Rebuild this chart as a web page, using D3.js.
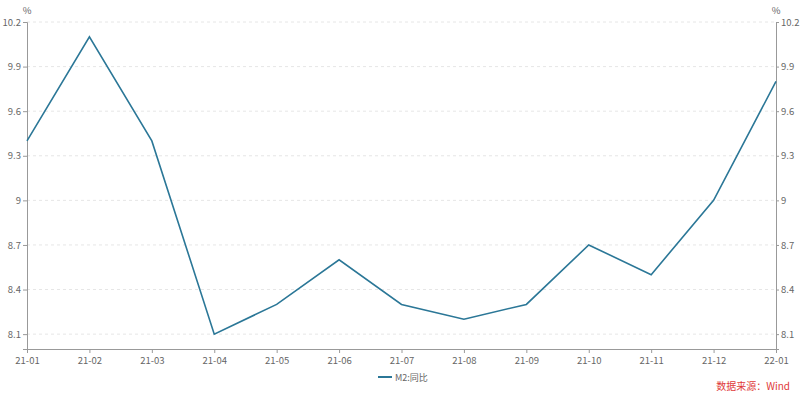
<!DOCTYPE html>
<html><head><meta charset="utf-8">
<script src="https://cdn.jsdelivr.net/npm/d3@7/dist/d3.min.js"></script>
<style>body{margin:0;background:#fff;}svg{display:block;font-family:"Noto Sans CJK SC","Open Sans",sans-serif;}</style>
</head><body><svg id="c" width="800" height="399"></svg>
<script>
const categories = ["21-01","21-02","21-03","21-04","21-05","21-06","21-07","21-08","21-09","21-10","21-11","21-12","22-01"];
const m2Values = [9.4,10.1,9.4,8.1,8.3,8.6,8.3,8.2,8.3,8.7,8.5,9.0,9.8];
const yTicks = [8.1,8.4,8.7,9.0,9.3,9.6,9.9,10.2];
const seriesName = "M2:同比";
const unit = "%";
const source = "数据来源：Wind";

const svg = d3.select("#c");
const L = 27, R = 776, T = 22, B = 349;
const x = d3.scalePoint().domain(categories).range([L, R]);
const y = d3.scaleLinear().domain([8.0, 10.2]).range([B, T]);
const axisColor = "#999";
const textColor = "#666";

// grid
svg.append("g").selectAll("line").data(yTicks).join("line")
  .attr("x1", L).attr("x2", R).attr("y1", d => y(d)).attr("y2", d => y(d))
  .attr("stroke", "#e6e6e6").attr("stroke-dasharray", "3,3");

const fmt = d => String(+d.toFixed(1));
const yl = svg.append("g").attr("transform", `translate(${L},0)`)
  .call(d3.axisLeft(y).tickValues(yTicks).tickFormat(fmt).tickSize(4).tickPadding(2));
const yr = svg.append("g").attr("transform", `translate(${R},0)`)
  .call(d3.axisRight(y).tickValues(yTicks).tickFormat(fmt).tickSize(3).tickPadding(2));
const xa = svg.append("g").attr("transform", `translate(0,${B})`)
  .call(d3.axisBottom(x).tickSize(4).tickPadding(4));
[yl, yr, xa].forEach(g => {
  g.select(".domain").attr("stroke", axisColor);
  g.selectAll(".tick line").attr("stroke", axisColor);
  g.selectAll("text").attr("fill", textColor).attr("font-size", 9.5)
    .attr("font-family", '"Noto Sans CJK SC","Open Sans",sans-serif');
});

svg.append("text").attr("x", L).attr("y", 14).attr("text-anchor", "middle")
  .attr("font-size", 9.5).attr("fill", textColor).text(unit);
svg.append("text").attr("x", R).attr("y", 14).attr("text-anchor", "middle")
  .attr("font-size", 9.5).attr("fill", textColor).text(unit);

const line = d3.line().x((d, i) => x(categories[i])).y(d => y(d));
svg.append("path").datum(m2Values).attr("d", line)
  .attr("fill", "none").attr("stroke", "#2b7797").attr("stroke-width", 1.6)
  .attr("stroke-linejoin", "miter");

// legend
const lg = svg.append("g").attr("transform", "translate(400,377)");
lg.append("line").attr("x1", -22).attr("x2", -8).attr("y1", 0).attr("y2", 0)
  .attr("stroke", "#2b7797").attr("stroke-width", 2);
lg.append("text").attr("x", -5).attr("y", 3.5).attr("font-size", 9).attr("fill", textColor).text(seriesName);

svg.append("text").attr("x", 790).attr("y", 390).attr("text-anchor", "end")
  .attr("font-size", 10).attr("fill", "#e03a3a").text(source);
</script></body></html>
